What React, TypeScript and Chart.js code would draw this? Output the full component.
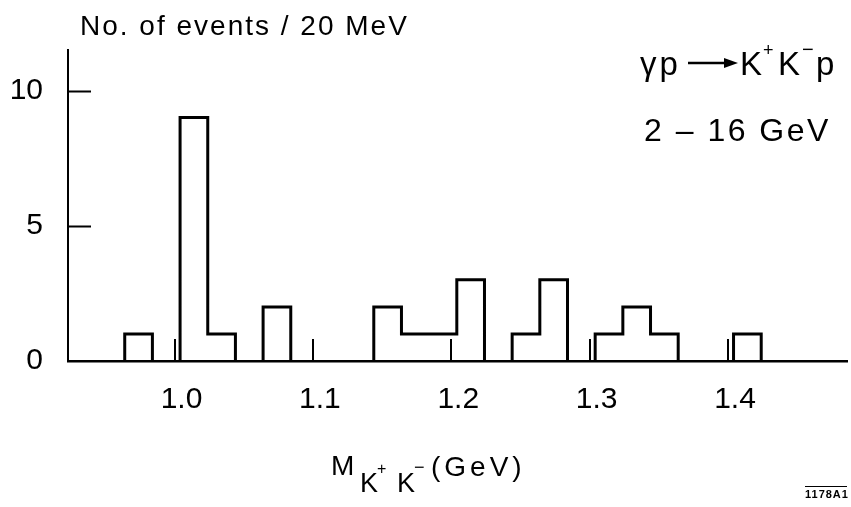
import React, { useEffect, useRef } from "react";
import { Chart, registerables } from "chart.js";

Chart.register(...registerables);

// ---- data ----
const BIN_WIDTH = 0.02; // GeV (20 MeV bins)
const BIN_LOW = [0.964, 1.004, 1.024, 1.064, 1.144, 1.164, 1.184, 1.204, 1.244, 1.264, 1.304, 1.324, 1.344, 1.404];
const COUNTS = [1, 9, 1, 2, 2, 1, 1, 3, 1, 3, 1, 2, 1, 1];
const X_TICKS = [1.0, 1.1, 1.2, 1.3, 1.4];
const X_TICK_LABELS = ["1.0", "1.1", "1.2", "1.3", "1.4"];
const Y_TICKS = [0, 5, 10];
const X_MIN = 0.923;
const X_MAX = 1.486;
const Y_MAX = 11.5;
const Y_TITLE = "No. of events / 20 MeV";
const REACTION_LEFT = "γp";
const REACTION_RIGHT = ["K", "+", "K", "−", "p"];
const ENERGY = "2 – 16 GeV";
const X_TITLE = ["M", "K", "+", "K", "−", "(GeV)"];
const FIG_ID = "1178A1";

const FONT = "'Liberation Sans', Arial, sans-serif";

function buildOutline() {
  const pts: { x: number; y: number | null }[] = [];
  let prevHi: number | null = null;
  BIN_LOW.forEach((lo, i) => {
    const hi = lo + BIN_WIDTH;
    const c = COUNTS[i];
    const contiguous = prevHi !== null && Math.abs(prevHi - lo) < 1e-6;
    if (!contiguous) {
      if (prevHi !== null) {
        pts.push({ x: prevHi, y: 0 });
        pts.push({ x: (prevHi + lo) / 2, y: null });
      }
      pts.push({ x: lo, y: 0 });
    }
    pts.push({ x: lo, y: c });
    pts.push({ x: hi, y: c });
    prevHi = hi;
  });
  if (prevHi !== null) pts.push({ x: prevHi, y: 0 });
  return pts;
}

const decorPlugin = {
  id: "decor",
  afterDraw(chart: any) {
    const { ctx, chartArea, scales } = chart;
    const xs = scales.x;
    const ys = scales.y;
    ctx.save();
    ctx.strokeStyle = "#000";
    ctx.fillStyle = "#000";
    ctx.lineWidth = 2;
    // inward y ticks
    Y_TICKS.filter((v) => v > 0).forEach((v) => {
      const py = Math.round(ys.getPixelForValue(v)) + 0.5;
      ctx.beginPath();
      ctx.moveTo(chartArea.left, py);
      ctx.lineTo(chartArea.left + 23, py);
      ctx.stroke();
    });
    // inward x ticks
    X_TICKS.forEach((v) => {
      const px = Math.round(xs.getPixelForValue(v));
      ctx.beginPath();
      ctx.moveTo(px, chartArea.bottom);
      ctx.lineTo(px, chartArea.bottom - 22);
      ctx.stroke();
    });

    ctx.textAlign = "left";
    ctx.textBaseline = "alphabetic";

    // y title
    ctx.font = `28px ${FONT}`;
    (ctx as any).letterSpacing = "2px";
    ctx.fillText(Y_TITLE, 80, 35);

    // reaction
    ctx.font = `33px ${FONT}`;
    (ctx as any).letterSpacing = "3px";
    ctx.fillText(REACTION_LEFT, 640, 75);
    (ctx as any).letterSpacing = "0px";
    // arrow
    ctx.lineWidth = 2.5;
    ctx.beginPath();
    ctx.moveTo(688, 63);
    ctx.lineTo(726, 63);
    ctx.stroke();
    ctx.beginPath();
    ctx.moveTo(738, 63);
    ctx.lineTo(724, 58);
    ctx.lineTo(724, 68);
    ctx.closePath();
    ctx.fill();
    ctx.font = `33px ${FONT}`;
    ctx.fillText(REACTION_RIGHT[0], 740, 75);
    ctx.font = `18px ${FONT}`;
    ctx.fillText(REACTION_RIGHT[1], 763, 56);
    ctx.font = `33px ${FONT}`;
    ctx.fillText(REACTION_RIGHT[2], 778, 75);
    ctx.font = `20px ${FONT}`;
    ctx.fillText(REACTION_RIGHT[3], 802, 56);
    ctx.font = `33px ${FONT}`;
    ctx.fillText(REACTION_RIGHT[4], 816, 75);

    // energy
    ctx.font = `32px ${FONT}`;
    (ctx as any).letterSpacing = "2.5px";
    ctx.fillText(ENERGY, 644, 141);
    (ctx as any).letterSpacing = "0px";

    // x title
    ctx.font = `28px ${FONT}`;
    ctx.fillText(X_TITLE[0], 331, 475);
    ctx.font = `27px ${FONT}`;
    ctx.fillText(X_TITLE[1], 360, 492);
    ctx.font = `16px ${FONT}`;
    ctx.fillText(X_TITLE[2], 377, 474);
    ctx.font = `27px ${FONT}`;
    ctx.fillText(X_TITLE[3], 397, 492);
    ctx.font = `18px ${FONT}`;
    ctx.fillText(X_TITLE[4], 414, 473);
    ctx.font = `28px ${FONT}`;
    (ctx as any).letterSpacing = "4px";
    ctx.fillText(X_TITLE[5], 431, 476);
    (ctx as any).letterSpacing = "0px";

    // figure id
    ctx.font = `bold 11px ${FONT}`;
    (ctx as any).letterSpacing = "1px";
    ctx.fillText(FIG_ID, 805, 498);
    (ctx as any).letterSpacing = "0px";
    ctx.lineWidth = 1;
    ctx.beginPath();
    ctx.moveTo(805, 486.5);
    ctx.lineTo(847, 486.5);
    ctx.stroke();
    ctx.restore();
  },
};

export default function App() {
  const canvasRef = useRef<HTMLCanvasElement | null>(null);

  useEffect(() => {
    document.body.style.margin = "0";
    document.body.style.background = "#fff";
    const canvas = canvasRef.current;
    if (!canvas) return;
    const chart = new Chart(canvas, {
      type: "line",
      data: {
        datasets: [
          {
            data: buildOutline() as any,
            borderColor: "#000",
            borderWidth: 3,
            pointRadius: 0,
            fill: false,
            tension: 0,
            spanGaps: false,
            borderJoinStyle: "miter",
            borderCapStyle: "square",
          },
        ],
      },
      options: {
        responsive: false,
        animation: false,
        devicePixelRatio: 1,
        events: [],
        layout: { padding: { top: 50, right: 4, left: 0, bottom: 0 } },
        plugins: {
          legend: { display: false },
          tooltip: { enabled: false },
          title: { display: false },
        },
        scales: {
          x: {
            type: "linear",
            min: X_MIN,
            max: X_MAX,
            grid: { display: false, drawTicks: false },
            border: { display: true, color: "#000", width: 2.5 },
            afterBuildTicks: (scale: any) => {
              scale.ticks = X_TICKS.map((v) => ({ value: v }));
            },
            afterFit: (scale: any) => {
              scale.height = 146;
            },
            ticks: {
              color: "#000",
              font: { family: FONT, size: 30 },
              padding: 21,
              labelOffset: 7,
              maxRotation: 0,
              autoSkip: false,
              callback: (v: any) => {
                const i = X_TICKS.findIndex((t) => Math.abs(t - Number(v)) < 1e-9);
                return i >= 0 ? X_TICK_LABELS[i] : "";
              },
            },
          },
          y: {
            type: "linear",
            min: 0,
            max: Y_MAX,
            grid: { display: false, drawTicks: false },
            border: { display: true, color: "#000", width: 2 },
            afterBuildTicks: (scale: any) => {
              scale.ticks = Y_TICKS.map((v) => ({ value: v }));
            },
            afterFit: (scale: any) => {
              scale.width = 68;
            },
            ticks: {
              color: "#000",
              font: { family: FONT, size: 30 },
              padding: 25,
              autoSkip: false,
              callback: (v: any) => String(v),
            },
          },
        },
      },
      plugins: [decorPlugin],
    });
    return () => chart.destroy();
  }, []);

  return (
    <div style={{ width: 851, height: 507, position: "relative", background: "#fff" }}>
      <canvas ref={canvasRef} width={851} height={507} style={{ display: "block" }} />
    </div>
  );
}
